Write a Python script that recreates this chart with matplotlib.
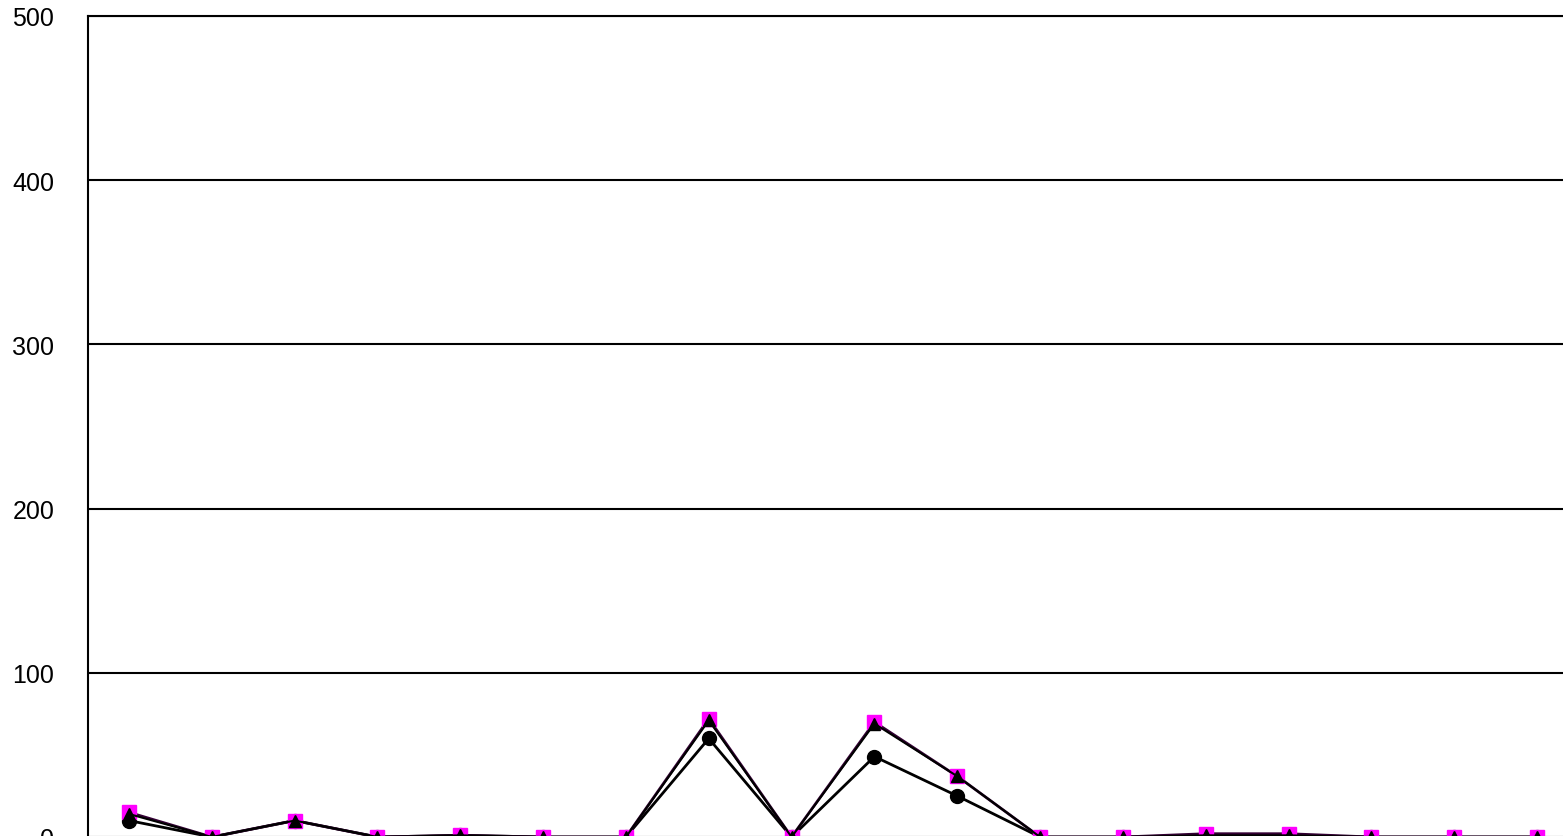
import matplotlib
matplotlib.use("Agg")
import matplotlib.pyplot as plt
import numpy as np

categories = list(range(1, 19))
series_circle = [10, 0, 10, 0, 1, 0, 0, 60, 0, 49, 25, 0, 0, 1, 1, 0, 0, 0]
series_square = [15, 0, 10, 0, 1, 0, 0, 72, 0, 70, 37, 0, 0, 2, 2, 0, 0, 0]
series_triangle = [14, 0, 10, 0, 1, 0, 0, 71, 0, 69, 37, 0, 0, 1, 1, 0, 0, 0]
yticks = [0, 100, 200, 300, 400, 500]

W, H = 1563, 837
fig = plt.figure(figsize=(W / 100, H / 100), dpi=100)
left_px, right_px = 87.6, 1578.4
top_px, bottom_px = 17, 838
ax = fig.add_axes([left_px / W, (H - bottom_px) / H,
                   (right_px - left_px) / W, (bottom_px - top_px) / H])

x = np.arange(len(categories))
ax.plot(x, series_circle, color="black", lw=2, marker="o", ms=10,
        mfc="black", mec="black", zorder=3, clip_on=False)
ax.plot(x, series_square, color="#330033", lw=2, marker="s", ms=10,
        mfc="#ff00ff", mec="#ff00ff", zorder=4, clip_on=False)
ax.plot(x, series_triangle, color="black", lw=1.5, marker="^", ms=9,
        mfc="black", mec="black", zorder=5, clip_on=False)

ax.set_xlim(-0.5, len(categories) - 0.5)
ax.set_ylim(0, 500)
ax.set_yticks(yticks)
ax.set_yticklabels([str(t) for t in yticks], fontsize=18, family="Liberation Sans")
ax.set_xticks([])
ax.tick_params(axis="y", length=0, pad=24)
for t in yticks:
    ax.axhline(t, color="black", lw=1.5, zorder=1)
for s in ["right", "bottom"]:
    ax.spines[s].set_visible(False)
ax.spines["left"].set_linewidth(1.5)
ax.spines["top"].set_linewidth(1.5)

fig.savefig("out.png", dpi=100)
